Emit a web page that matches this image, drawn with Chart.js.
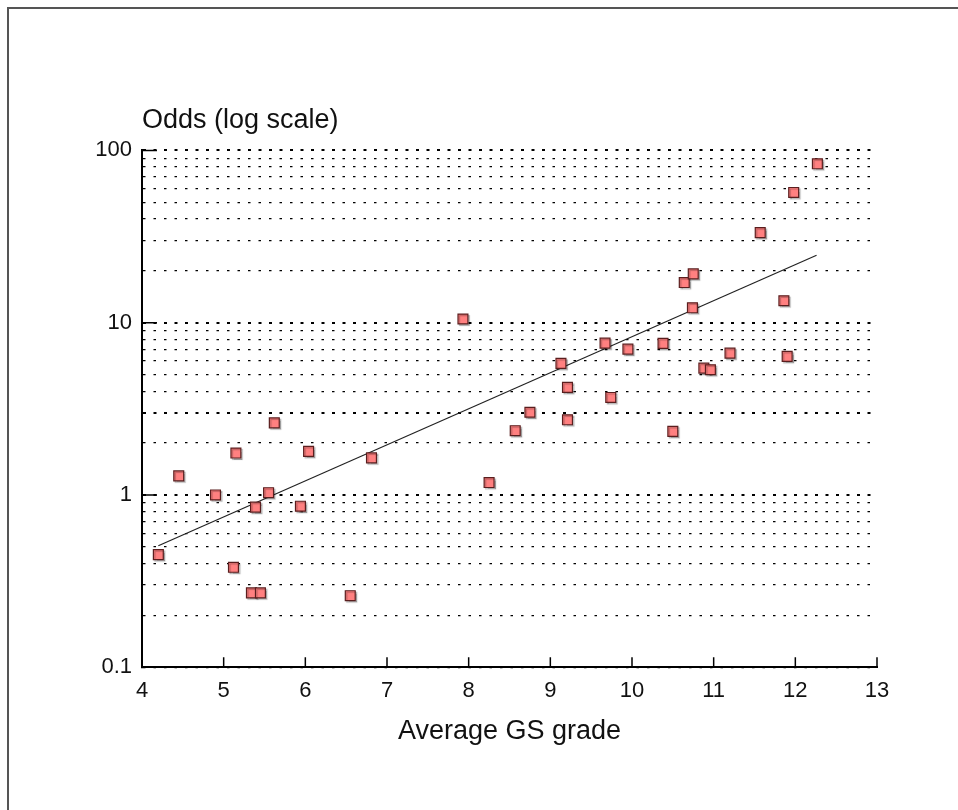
<!DOCTYPE html>
<html>
<head>
<meta charset="utf-8">
<script src="https://cdn.jsdelivr.net/npm/chart.js@4"></script>
<style>
  html, body { margin: 0; padding: 0; background: #fff; overflow: hidden; }
  .frame { position: absolute; left: 7px; top: 7px; width: 1000px; height: 900px;
    border-left: 2px solid #555; border-top: 2px solid #555; }
  .wrap { position: absolute; left: 0; top: 0; width: 958px; height: 810px; }
</style>
</head>
<body>
<div class="frame"></div>
<div class="wrap"><canvas id="oddsChart"></canvas></div>
<script>
'use strict'
// 평균 GS 등급 (x)
const gsGrade = [4.20, 4.45, 4.90, 5.12, 5.15, 5.34, 5.39, 5.45, 5.55, 5.62, 5.94, 6.04, 6.55, 6.81,
  7.93, 8.25, 8.57, 8.75, 9.13, 9.21, 9.21, 9.67, 9.74, 9.95, 10.38, 10.50, 10.64, 10.74, 10.75,
  10.88, 10.96, 11.20, 11.57, 11.86, 11.90, 11.98, 12.27];
// 오즈 값 (y, 로그 스케일)
const odds = [0.45, 1.29, 1.00, 0.38, 1.75, 0.27, 0.85, 0.27, 1.03, 2.62, 0.86, 1.79, 0.26, 1.64,
  10.5, 1.18, 2.36, 3.02, 5.80, 4.21, 2.73, 7.61, 3.68, 7.02, 7.58, 2.34, 17.1, 12.2, 19.2,
  5.45, 5.33, 6.66, 33.3, 13.4, 6.37, 57.0, 83.6];

// 추세선 양 끝
const trendX = [4.20, 12.26];
const trendY = [0.507, 24.6];

// 눈금
const xTickValues = [4, 5, 6, 7, 8, 9, 10, 11, 12, 13];
const yTickValues = [0.1, 0.2, 0.3, 0.4, 0.5, 0.6, 0.7, 0.8, 0.9,
  1, 2, 3, 4, 5, 6, 7, 8, 9,
  10, 20, 30, 40, 50, 60, 70, 80, 90, 100];
const yLabelValues = [0.1, 1, 10, 100];
const yBoldGrid = [1, 3, 10, 100];

const FONT = 'Liberation Sans, Arial, sans-serif';

// 축 안쪽으로 그려지는 눈금 표시
const innerTicks = {
  id: 'innerTicks',
  beforeDatasetsDraw(chart) {
    const { ctx, chartArea, scales } = chart;
    ctx.save();
    ctx.strokeStyle = '#000';
    ctx.lineWidth = 1.5;
    ctx.beginPath();
    xTickValues.forEach(v => {
      const px = scales.x.getPixelForValue(v);
      ctx.moveTo(px, chartArea.bottom);
      ctx.lineTo(px, chartArea.bottom - 10);
    });
    yLabelValues.slice(1).forEach(v => {
      const py = scales.y.getPixelForValue(v);
      ctx.moveTo(chartArea.left, py);
      ctx.lineTo(chartArea.left + 15, py);
    });
    ctx.stroke();
    ctx.restore();
  }
};

// 점 그림자
const pointShadow = {
  id: 'pointShadow',
  beforeDatasetDraw(chart, args) {
    if (args.index !== 0) return;
    const ctx = chart.ctx;
    ctx.save();
    ctx.shadowColor = 'rgba(0,0,0,0.25)';
    ctx.shadowOffsetX = 1.5;
    ctx.shadowOffsetY = 1.5;
    ctx.shadowBlur = 1;
  },
  afterDatasetDraw(chart, args) {
    if (args.index !== 0) return;
    chart.ctx.restore();
  }
};

new Chart(document.getElementById('oddsChart'), {
  type: 'scatter',
  data: {
    datasets: [
      {
        label: 'Odds',
        data: gsGrade.map((x, i) => ({ x: x, y: odds[i] })),
        pointStyle: 'rect',
        pointRadius: 7,
        backgroundColor: 'rgb(255,128,128)',
        borderColor: 'rgb(90,30,30)',
        borderWidth: 1.2,
      },
      {
        label: 'Trend',
        data: trendX.map((x, i) => ({ x: x, y: trendY[i] })),
        showLine: true,
        pointRadius: 0,
        borderColor: '#222',
        borderWidth: 1.2,
        fill: false,
      },
    ],
  },
  options: {
    responsive: true,
    maintainAspectRatio: false,
    animation: false,
    layout: { padding: { top: 104, right: 81, bottom: 62, left: 0 } },
    plugins: {
      legend: { display: false },
      tooltip: { enabled: false },
      title: {
        display: true,
        text: 'Odds (log scale)',
        align: 'start',
        fullSize: false,
        color: '#111',
        font: { family: FONT, size: 27, weight: 'normal' },
        padding: { top: 0, bottom: 14 },
      },
    },
    scales: {
      x: {
        type: 'linear',
        min: 4,
        max: 13,
        afterBuildTicks: scale => { scale.ticks = xTickValues.map(v => ({ value: v })); },
        grid: { display: false, drawTicks: false },
        border: { display: true, color: '#000', width: 2 },
        ticks: {
          autoSkip: false,
          padding: 11,
          color: '#111',
          font: { family: FONT, size: 22 },
          callback: v => String(v),
        },
        title: {
          display: true,
          text: 'Average GS grade',
          color: '#111',
          font: { family: FONT, size: 27 },
          padding: { top: 0, bottom: 0 },
        },
      },
      y: {
        type: 'logarithmic',
        min: 0.1,
        max: 100,
        afterBuildTicks: scale => { scale.ticks = yTickValues.map(v => ({ value: v })); },
        afterFit: scale => { scale.width = 142; },
        grid: {
          drawTicks: false,
          color: '#000',
          lineWidth: c => (c.tick && yBoldGrid.includes(c.tick.value)) ? 2 : 1.2,
        },
        border: {
          display: true,
          color: '#000',
          width: 2,
          dash: c => {
            if (!c.tick) return [];
            return yBoldGrid.includes(c.tick.value) ? [3, 7.5] : [2.5, 8];
          },
        },
        ticks: {
          autoSkip: false,
          padding: 10,
          color: '#111',
          font: { family: FONT, size: 22 },
          callback: v => yLabelValues.includes(v) ? String(v) : '',
        },
      },
    },
  },
  plugins: [innerTicks, pointShadow],
});
</script>
</body>
</html>
